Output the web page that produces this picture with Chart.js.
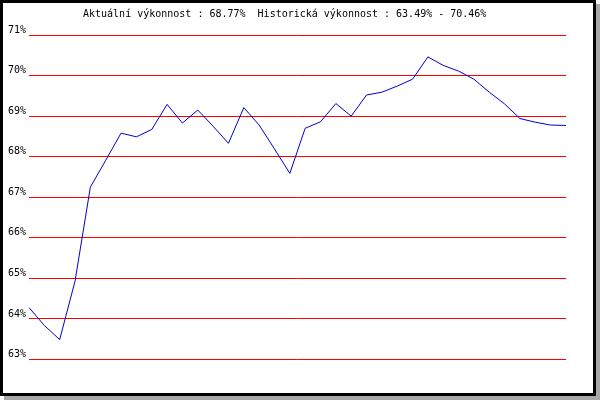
<!DOCTYPE html>
<html>
<head>
<meta charset="utf-8">
<script src="https://cdn.jsdelivr.net/npm/chart.js@4"></script>
<style>
  body { margin: 0; background: #fff; }
  #frame {
    position: absolute; left: 0; top: 0;
    width: 590px; height: 390px;
    border: 3px solid #000;
    box-shadow: 4px 4px 0 #a8a8a8;
    background: #fff;
  }
  #perfChart { position: absolute; left: 0; top: 0; }
</style>
</head>
<body>
<div id="frame"></div>
<canvas id="perfChart" width="600" height="400"></canvas>
<script>
// performance values (one point per period)
const periods = [
  1, 2, 3, 4, 5, 6, 7, 8, 9, 10, 11, 12,
  13, 14, 15, 16, 17, 18, 19, 20, 21, 22, 23, 24,
  25, 26, 27, 28, 29, 30, 31, 32, 33, 34, 35, 36
];
const performance = [
  64.28, 63.84, 63.49, 64.93, 67.25, 67.91, 68.58, 68.49, 68.67, 69.29, 68.83, 69.15,
  68.75, 68.33, 69.21, 68.78, 68.19, 67.59, 68.70, 68.86, 69.31, 69.00, 69.52, 69.59,
  69.74, 69.91, 70.46, 70.25, 70.11, 69.91, 69.59, 69.30, 68.94, 68.85, 68.78, 68.77
];
const yMin = 63;
const yMax = 71;
const titleText = 'Aktuální výkonnost : 68.77%  Historická výkonnost : 63.49% - 70.46%';

const monoFont = '"DejaVu Sans Mono", "Liberation Mono", monospace';

// header text sits left of centre, so draw it by hand
const headerPlugin = {
  id: 'headerText',
  afterDraw: (chart) => {
    const { ctx } = chart;
    ctx.save();
    ctx.font = '10px ' + monoFont;
    ctx.fillStyle = '#000';
    ctx.textAlign = 'left';
    ctx.textBaseline = 'alphabetic';
    ctx.fillText(titleText, 83, 17);
    ctx.restore();
  }
};

const ctx = document.getElementById('perfChart').getContext('2d');

new Chart(ctx, {
  type: 'line',
  data: {
    labels: periods,
    datasets: [{
      data: performance,
      borderColor: '#0000cc',
      borderWidth: 1,
      pointRadius: 0,
      tension: 0,
      fill: false
    }]
  },
  options: {
    responsive: false,
    animation: false,
    layout: {
      padding: { top: 35, bottom: 40.5, left: 0, right: 34 }
    },
    plugins: {
      legend: { display: false },
      title: { display: false },
      tooltip: { enabled: false }
    },
    scales: {
      x: {
        display: false,
        offset: false
      },
      y: {
        min: yMin,
        max: yMax,
        afterFit: (scale) => { scale.width = 29; },
        border: { display: false },
        grid: {
          color: '#ff0000',
          lineWidth: 1,
          drawTicks: false
        },
        ticks: {
          stepSize: 1,
          padding: 3,
          labelOffset: -5,
          color: '#000',
          font: { family: monoFont, size: 10 },
          callback: (value) => value + '%'
        }
      }
    }
  },
  plugins: [headerPlugin]
});
</script>
</body>
</html>
